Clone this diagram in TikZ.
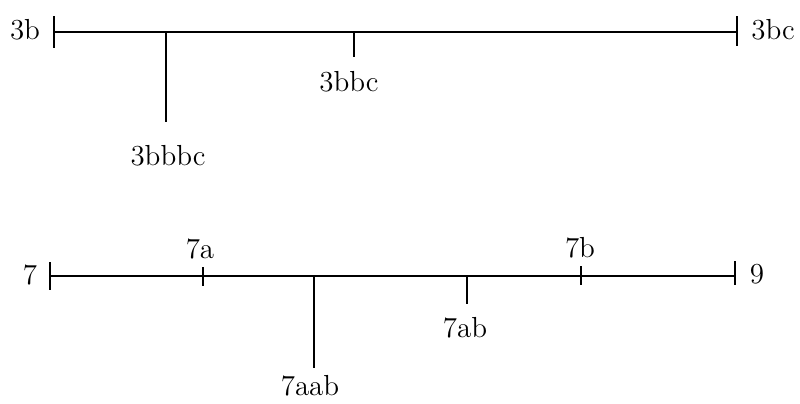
\documentclass[tikz,border=0pt]{standalone}
\begin{document}
\begin{tikzpicture}[x=0.5pt,y=-0.5pt,line width=0.9pt,
	lbl/.style={font=\fontsize{14.5}{17}\selectfont, inner sep=0pt}]
	\useasboundingbox (0,0) rectangle (800,403);

	% upper line
	\coordinate (b3) at (54,32);
	\coordinate (b3c) at (737,32);
	\coordinate (b3bbbc) at (166,32);
	\coordinate (b3bbc) at (354,32);
	\draw (b3) -- (b3c);
	\draw (b3) ++(0,-16) -- ++(0,32);
	\draw (b3c) ++(0,-16) -- ++(0,30);
	\draw (b3bbbc) -- ++(0,90);
	\draw (b3bbc) -- ++(0,25);
	\node[lbl] (l3b) at (25,30) {3b};
	\node[lbl] (l3bc) at (773,30) {3bc};
	\node[lbl] (l3bbc) at (349,82) {3bbc};
	\node[lbl] (l3bbbc) at (168,156) {3bbbc};

	% lower line
	\coordinate (s7) at (50,276);
	\coordinate (s9) at (735,276);
	\coordinate (s7a) at (203,276);
	\coordinate (s7b) at (581,276);
	\coordinate (s7aab) at (314,276);
	\coordinate (s7ab) at (467,276);
	\draw (s7) -- (s9);
	\draw (s7) ++(0,-14) -- ++(0,28);
	\draw (s9) ++(0,-15) -- ++(0,24);
	\draw (s7a) ++(0,-9) -- ++(0,19);
	\draw (s7b) ++(0,-10) -- ++(0,19);
	\draw (s7aab) -- ++(0,92);
	\draw (s7ab) -- ++(0,28);
	\node[lbl] (l7) at (30,275) {7};
	\node[lbl] (l9) at (757,274) {9};
	\node[lbl] (l7a) at (200,249) {7a};
	\node[lbl] (l7b) at (580,248) {7b};
	\node[lbl] (l7ab) at (465,328) {7ab};
	\node[lbl] (l7aab) at (310,386) {7aab};
\end{tikzpicture}
\end{document}
